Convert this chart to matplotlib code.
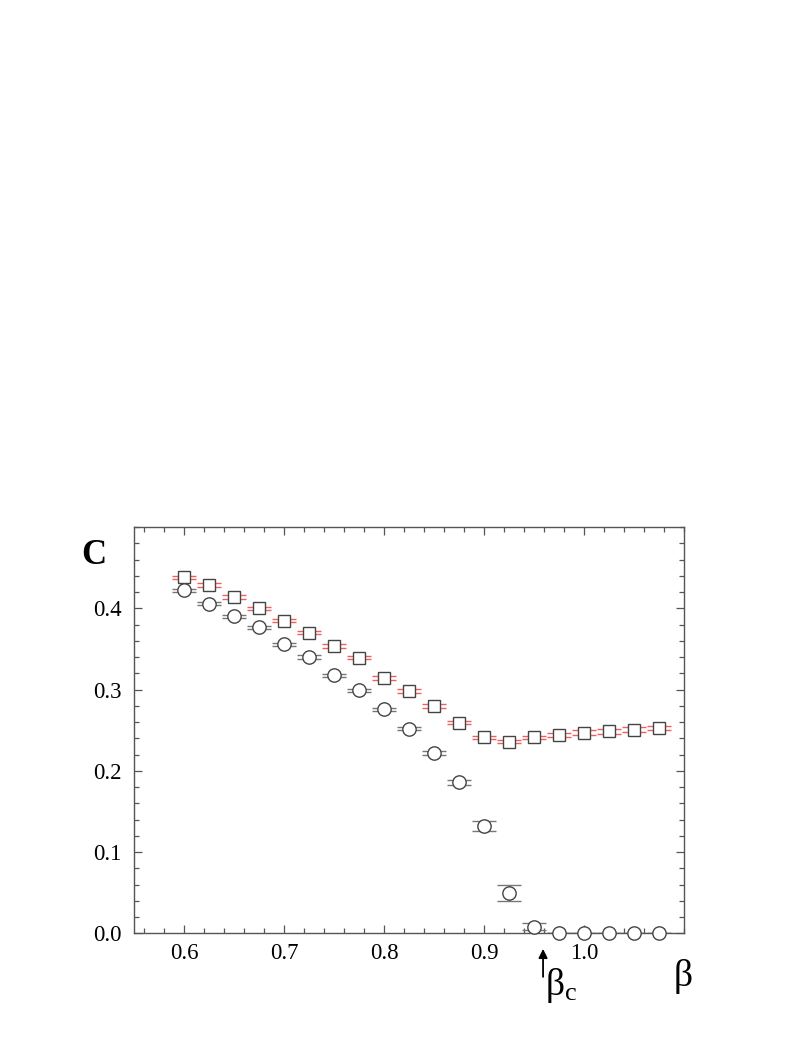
import matplotlib
matplotlib.use("Agg")
import matplotlib.pyplot as plt
from matplotlib.ticker import MultipleLocator

beta = [0.600, 0.625, 0.650, 0.675, 0.700, 0.725, 0.750, 0.775, 0.800, 0.825,
        0.850, 0.875, 0.900, 0.925, 0.950, 0.975, 1.000, 1.025, 1.050, 1.075]
c_square = [0.438, 0.4285, 0.4138, 0.400, 0.3848, 0.370, 0.3536, 0.3393, 0.3143, 0.2983,
            0.2799, 0.2595, 0.2414, 0.2361, 0.2414, 0.2439, 0.2472, 0.2488, 0.2509, 0.2528]
err_square = [0.002, 0.002, 0.002, 0.002, 0.002, 0.002, 0.002, 0.002, 0.002, 0.002,
              0.002, 0.002, 0.002, 0.002, 0.002, 0.0025, 0.0025, 0.003, 0.003, 0.003]
c_circle = [0.422, 0.4057, 0.390, 0.3765, 0.3557, 0.340, 0.3176, 0.2991, 0.2758, 0.2521,
            0.2221, 0.1861, 0.1324, 0.0494, 0.0084, 0.0, 0.0, 0.0, 0.0, 0.0]
err_circle = [0.002, 0.002, 0.002, 0.002, 0.002, 0.002, 0.002, 0.002, 0.002, 0.002,
              0.0025, 0.003, 0.006, 0.010, 0.0045, 0.0, 0.0, 0.0, 0.0, 0.0]
xticks = [0.6, 0.7, 0.8, 0.9, 1.0]
yticks = [0.0, 0.1, 0.2, 0.3, 0.4]
beta_c = 0.96

plt.rcParams['font.family'] = ['Liberation Serif', 'DejaVu Serif']
plt.rcParams['mathtext.fontset'] = 'custom'
plt.rcParams['mathtext.rm'] = 'Liberation Serif'
plt.rcParams['mathtext.it'] = 'Liberation Serif:italic'

fig = plt.figure(figsize=(8.02, 10.38), dpi=100)
ax = fig.add_axes([0.167, 0.1007, 0.686, 0.3916])

spine_col = '#555555'
ax.errorbar(beta, c_square, yerr=err_square, fmt='none', ecolor='#f06060',
            elinewidth=1.0, capsize=8.5, capthick=1.0, zorder=2)
ax.errorbar(beta, c_circle, yerr=err_circle, fmt='none', ecolor='#777777',
            elinewidth=1.0, capsize=8.5, capthick=1.0, zorder=2)
ax.plot(beta, c_square, linestyle='none', marker='s', markersize=8.2,
        markerfacecolor='white', markeredgecolor='#444444', markeredgewidth=1.0, zorder=4)
ax.plot(beta, c_circle, linestyle='none', marker='o', markersize=9.6,
        markerfacecolor='white', markeredgecolor='#444444', markeredgewidth=1.0, zorder=4,
        clip_on=False)

ax.set_xlim(0.55, 1.1)
ax.set_ylim(0.0, 0.5)
ax.set_xticks(xticks)
ax.set_xticklabels([f"{v:.1f}" for v in xticks])
ax.set_yticks(yticks)
ax.set_yticklabels([f"{v:.1f}" for v in yticks])
ax.xaxis.set_minor_locator(MultipleLocator(0.02))
ax.yaxis.set_minor_locator(MultipleLocator(0.02))
ax.tick_params(which='both', direction='in', top=True, right=True, color=spine_col,
               width=0.9, labelsize=16.5)
ax.tick_params(which='major', length=6)
ax.tick_params(which='minor', length=3.5)
ax.tick_params(axis='y', which='major', pad=9)
ax.tick_params(axis='x', which='major', pad=7)
for s in ax.spines.values():
    s.set_color(spine_col)
    s.set_linewidth(1.0)

fig.text(93.5 / 802, 1 - 556 / 1038, 'C', fontsize=25, fontweight='bold',
         ha='center', va='center')
fig.text(683 / 802, 1 - 986 / 1038, 'β', fontsize=27, ha='center', va='baseline')

ax.annotate('', xy=(beta_c - 0.001, -0.019), xytext=(beta_c - 0.001, -0.0534),
            xycoords='data', textcoords='data',
            arrowprops=dict(arrowstyle='-|>', color='black', lw=1.3,
                            mutation_scale=13, shrinkA=0, shrinkB=0),
            annotation_clip=False)
ax.text(beta_c + 0.001, -0.0755, r'β$_{\mathrm{c}}$', fontsize=27, ha='left', va='baseline',
        clip_on=False)

fig.savefig('out.png', dpi=100)
